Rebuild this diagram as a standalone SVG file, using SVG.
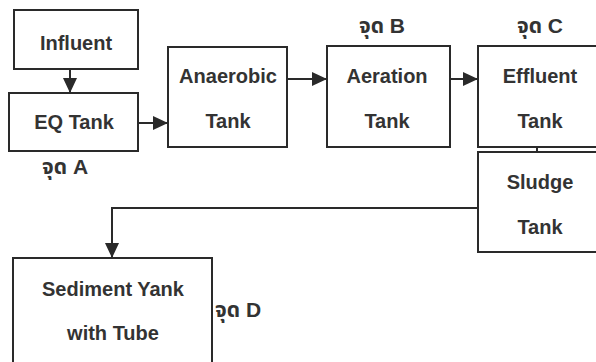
<svg xmlns="http://www.w3.org/2000/svg" width="596" height="362" viewBox="0 0 596 362">
<style>
.box{fill:#fff;stroke:#2a2a2a;stroke-width:2}
.t{font-family:"Liberation Sans",Arial,sans-serif;font-weight:bold;font-size:20px;fill:#333;text-anchor:middle}
.th{font-family:"Liberation Sans","Noto Sans Thai","Noto Sans",sans-serif;font-weight:bold;font-size:21px;fill:#333}
.c{fill:none;stroke:#2a2a2a;stroke-width:2}
</style>
<defs>
<marker id="ah" viewBox="0 0 15 14" refX="15" refY="7" markerWidth="7.5" markerHeight="7" orient="auto" markerUnits="strokeWidth">
<path d="M0,0 L15,7 L0,14 Z" fill="#2a2a2a"/>
</marker>
</defs>
<rect width="596" height="362" fill="#fff"/>
<g id="connectors">
<path class="c" d="M70,69 V93" marker-end="url(#ah)"/>
<path class="c" d="M138,123 H168" marker-end="url(#ah)"/>
<path class="c" d="M287,79 H327" marker-end="url(#ah)"/>
<path class="c" d="M450,79 H478" marker-end="url(#ah)"/>
<path class="c" d="M537,147 V152"/>
<path class="c" d="M478,208 H112 V258" marker-end="url(#ah)"/>
</g>
<g id="influent"><rect class="box" x="14" y="10" width="124" height="59"/><text class="t" x="76" y="50">Influent</text></g>
<g id="eq-tank"><rect class="box" x="9" y="93" width="129" height="58"/><text class="t" x="74" y="129">EQ Tank</text></g>
<g id="point-a"><text class="th" x="42" y="174">จุด A</text></g>
<g id="anaerobic-tank"><rect class="box" x="168" y="47" width="119" height="100"/><text class="t" x="228" y="83">Anaerobic</text><text class="t" x="228" y="128">Tank</text></g>
<g id="aeration-tank"><rect class="box" x="327" y="46" width="123" height="101"/><text class="t" x="387" y="83">Aeration</text><text class="t" x="387" y="128">Tank</text></g>
<g id="point-b"><text class="th" x="382" y="33" text-anchor="middle">จุด B</text></g>
<g id="effluent-tank"><rect class="box" x="478" y="46" width="130" height="101"/><text class="t" x="540" y="83">Effluent</text><text class="t" x="540" y="128">Tank</text></g>
<g id="point-c"><text class="th" x="540" y="33" text-anchor="middle">จุด C</text></g>
<g id="sludge-tank"><rect class="box" x="478" y="152" width="130" height="100"/><text class="t" x="540" y="189">Sludge</text><text class="t" x="540" y="234">Tank</text></g>
<g id="sediment-tank"><rect class="box" x="13" y="258" width="199" height="120"/><text class="t" x="113" y="296">Sediment Yank</text><text class="t" x="113" y="340">with Tube</text></g>
<g id="point-d"><text class="th" x="215" y="317">จุด D</text></g>
</svg>
